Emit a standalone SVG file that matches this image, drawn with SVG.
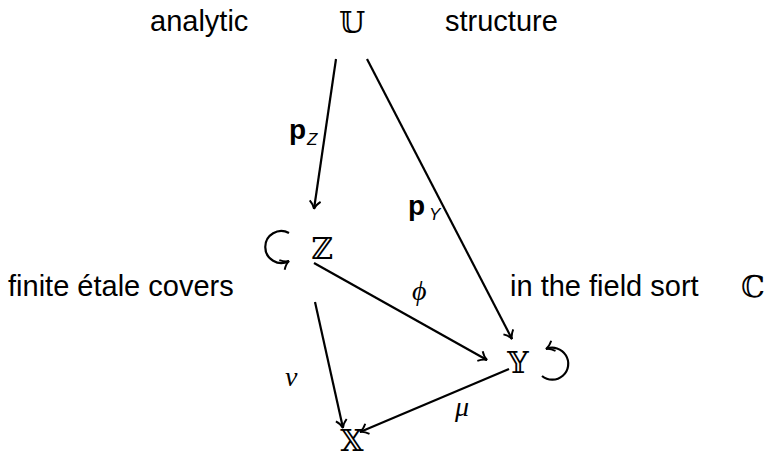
<svg xmlns="http://www.w3.org/2000/svg" width="769" height="455" viewBox="0 0 769 455">
<style>
.t{font-family:"Liberation Sans",Arial,sans-serif;font-size:29px;fill:#000}
.s{font-family:"Liberation Sans",Arial,sans-serif;fill:#000}
.m{font-family:"DejaVu Serif","Liberation Serif",serif;font-size:30px;fill:#000}
.g{font-family:"Liberation Serif","DejaVu Serif",serif;font-size:28px;font-style:italic;fill:#000}
.e{fill:none;stroke:#000;stroke-width:2.2}
</style>
<defs>
<marker id="ah" markerWidth="14" markerHeight="14" refX="11" refY="7" orient="auto" markerUnits="userSpaceOnUse">
<path d="M3,1.5 Q7,6 11,7 Q7,8 3,12.5" fill="none" stroke="#000" stroke-width="1.9"/>
</marker>
</defs>
<g id="labels">
<text class="t" x="150" y="31">analytic</text>
<text class="t" x="445" y="31">structure</text>
<text class="t" x="8" y="296">finite étale covers</text>
<text class="t" x="510" y="296">in the field sort</text>
<text class="m" x="753" y="297" text-anchor="middle">ℂ</text>
</g>
<g id="node-U"><text class="m" x="352" y="33" text-anchor="middle">𝕌</text></g>
<g id="node-Z"><text class="m" x="322" y="259" text-anchor="middle">ℤ</text>
<path class="e" d="M289,233 A16,16 0 1 0 289,261" marker-end="url(#ah)"/></g>
<g id="node-Y"><text class="m" x="518" y="373" text-anchor="middle">𝕐</text>
<path class="e" d="M542,376 A16,16 0 1 0 546,349" marker-end="url(#ah)"/></g>
<g id="node-X"><text class="m" x="352" y="451" text-anchor="middle">𝕏</text></g>
<g id="connectors">
<line class="e" x1="336" y1="59" x2="314" y2="209" marker-end="url(#ah)"/>
<line class="e" x1="367" y1="59" x2="512" y2="339" marker-end="url(#ah)"/>
<line class="e" x1="314" y1="263" x2="487" y2="360" marker-end="url(#ah)"/>
<line class="e" x1="315" y1="302" x2="343" y2="428" marker-end="url(#ah)"/>
<line class="e" x1="509" y1="369" x2="360" y2="432" marker-end="url(#ah)"/>
</g>
<g id="edge-labels">
<text class="s" x="289" y="139" style="font-weight:bold;font-size:28px">p</text>
<text class="s" x="307" y="145" style="font-style:italic;font-size:17px">Z</text>
<text class="s" x="408" y="215" style="font-weight:bold;font-size:28px">p</text>
<text class="s" x="429" y="220" style="font-style:italic;font-size:17px">Y</text>
<text class="g" x="412" y="300">ϕ</text>
<text class="g" x="285" y="386">ν</text>
<text class="g" x="455" y="416">μ</text>
</g>
</svg>
